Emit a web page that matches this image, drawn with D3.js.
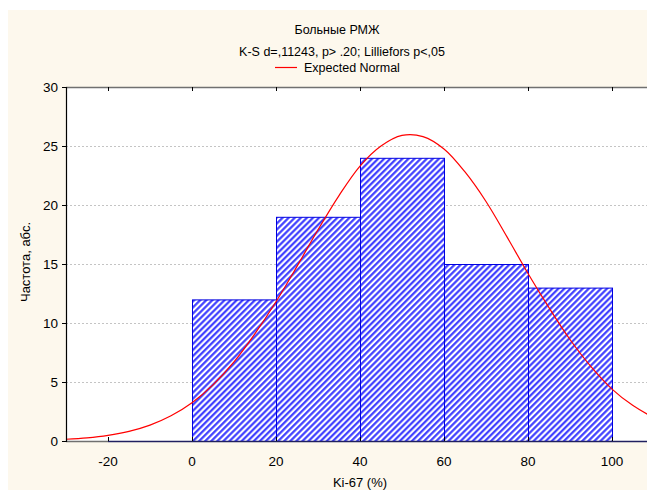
<!DOCTYPE html>
<html lang="ru">
    <head>
        <meta charset="utf-8">
        <title>Ki-67 histogram</title>
        <script type="text/javascript" src="https://cdn.jsdelivr.net/npm/d3@7"></script>
        <style>
            body { margin: 0; background: #ffffff; }
            text { font-family: "Liberation Sans", Arial, sans-serif; }
        </style>
    </head>
    <body>
        <script type="text/javascript">
            var w = 647;
            var h = 490;

            // histogram bins (left edges, width 20) and counts
            var binStarts = [-20, 0, 20, 40, 60, 80];
            var binCounts = [0, 12, 19, 24, 15, 13];
            var binWidth = 20;

            // expected normal curve, every 5 units
            var curveX = [-30, -25, -20, -15, -10, -5, 0, 5, 10, 15, 20, 25, 30, 35, 40, 45, 50, 55,
                          60, 65, 70, 75, 80, 85, 90, 95, 100, 105, 110];
            var curveY = [0.15, 0.27, 0.48, 0.82, 1.35, 2.14, 3.25, 4.76, 6.7, 9.1, 11.8, 14.8, 17.9, 20.8,
                          23.3, 25.0, 25.9, 25.8, 24.75, 22.8, 20.3, 17.3, 14.2, 11.3, 8.6, 6.3, 4.4, 3.0, 1.96];

            var xTicks = [-20, 0, 20, 40, 60, 80, 100];
            var yTicks = [0, 5, 10, 15, 20, 25, 30];

            var title = "Больные РМЖ";
            var subtitle = "K-S d=,11243, p> .20; Lilliefors p<,05";
            var legendLabel = "Expected Normal";
            var xLabel = "Ki-67 (%)";
            var yLabel = "Частота, абс.";

            var svg = d3.select("body").append("svg").attr("width", w).attr("height", h);

            // cream panel behind everything
            svg.append("rect").attr("x", 8).attr("y", 10).attr("width", w - 8).attr("height", h - 10)
               .attr("fill", "#fdf8ed");

            // note: "top" is taken by window.top, so plot edges get their own names
            var pLeft = 66, pTop = 87, pBottom = 441, pRight = 654;
            var xscale = d3.scaleLinear().domain([-30, 110]).range([pLeft, pRight]);
            var yscale = d3.scaleLinear().domain([0, 30]).range([pBottom, pTop]);

            // hatch pattern for bars
            var defs = svg.append("defs");
            var pat = defs.append("pattern").attr("id", "hatch")
               .attr("patternUnits", "userSpaceOnUse")
               .attr("width", 4.3).attr("height", 4.3)
               .attr("patternTransform", "rotate(45)");
            pat.append("rect").attr("width", 4.3).attr("height", 4.3).attr("fill", "#ffffff");
            pat.append("line").attr("x1", 1.2).attr("y1", 0).attr("x2", 1.2).attr("y2", 4.3)
               .attr("stroke", "#3535ff").attr("stroke-width", 2.1);

            // plot area
            svg.append("rect").attr("x", pLeft).attr("y", pTop).attr("width", w - pLeft).attr("height", pBottom - pTop)
               .attr("fill", "#ffffff");

            // dashed grid lines
            svg.selectAll("line.grid").data(yTicks.filter(function (d) { return d > 0 && d < 30; }))
               .enter().append("line").attr("class", "grid")
               .attr("x1", pLeft).attr("x2", w)
               .attr("y1", function (d) { return yscale(d) + 0.5; })
               .attr("y2", function (d) { return yscale(d) + 0.5; })
               .attr("stroke", "#c4c4c4").attr("stroke-dasharray", "2,2");

            // bars
            svg.selectAll("rect.bar").data(binCounts).enter().append("rect").attr("class", "bar")
               .attr("x", function (d, i) { return xscale(binStarts[i]) + 0.5; })
               .attr("y", function (d) { return yscale(d) + 0.5; })
               .attr("width", function (d, i) { return xscale(binStarts[i] + binWidth) - xscale(binStarts[i]); })
               .attr("height", function (d) { return yscale(0) - yscale(d); })
               .attr("fill", "url(#hatch)")
               .attr("stroke", "#0000e0").attr("stroke-width", 1);

            // expected normal curve (catmull-rom keeps the peak round)
            var line = d3.line()
               .x(function (d, i) { return xscale(curveX[i]); })
               .y(function (d) { return yscale(d); })
               .curve(d3.curveCatmullRom.alpha(0.5));
            svg.append("path").datum(curveY).attr("d", line)
               .attr("fill", "none").attr("stroke", "#ff0000").attr("stroke-width", 1.2);

            // frame: top and bottom axes gray, left axis black
            svg.append("line").attr("x1", pLeft).attr("x2", w).attr("y1", pTop + 0.5).attr("y2", pTop + 0.5)
               .attr("stroke", "#707070").attr("stroke-width", 1.5);
            svg.append("line").attr("x1", pLeft).attr("x2", xscale(-20)).attr("y1", pBottom + 0.5).attr("y2", pBottom + 0.5)
               .attr("stroke", "#707070").attr("stroke-width", 1.5);
            svg.append("line").attr("x1", xscale(-20)).attr("x2", w).attr("y1", pBottom + 0.5).attr("y2", pBottom + 0.5)
               .attr("stroke", "#202060").attr("stroke-width", 1.5);
            svg.append("line").attr("x1", pLeft + 0.5).attr("x2", pLeft + 0.5).attr("y1", pTop).attr("y2", pBottom + 1)
               .attr("stroke", "#000000").attr("stroke-width", 1.2);

            // x ticks (inward, top and bottom)
            svg.selectAll("line.xtb").data(xTicks).enter().append("line").attr("class", "xtb")
               .attr("x1", function (d) { return xscale(d) + 0.5; }).attr("x2", function (d) { return xscale(d) + 0.5; })
               .attr("y1", pBottom).attr("y2", pBottom - 4).attr("stroke", "#000000");
            svg.selectAll("line.xtt").data(xTicks).enter().append("line").attr("class", "xtt")
               .attr("x1", function (d) { return xscale(d) + 0.5; }).attr("x2", function (d) { return xscale(d) + 0.5; })
               .attr("y1", pTop).attr("y2", pTop + 4).attr("stroke", "#000000");

            svg.selectAll("text.xt").data(xTicks).enter().append("text").attr("class", "xt")
               .text(function (d) { return d; })
               .attr("x", function (d) { return xscale(d); })
               .attr("y", 466)
               .attr("font-size", "13.5px").attr("text-anchor", "middle").attr("fill", "#000");

            // y ticks (outward)
            svg.selectAll("line.yt").data(yTicks).enter().append("line").attr("class", "yt")
               .attr("x1", pLeft - 4).attr("x2", pLeft)
               .attr("y1", function (d) { return yscale(d) + 0.5; }).attr("y2", function (d) { return yscale(d) + 0.5; })
               .attr("stroke", "#000000");
            svg.selectAll("text.ytl").data(yTicks).enter().append("text").attr("class", "ytl")
               .text(function (d) { return d; })
               .attr("x", 58)
               .attr("y", function (d) { return yscale(d) + 5; })
               .attr("font-size", "13.5px").attr("text-anchor", "end").attr("fill", "#000");

            // titles and labels
            svg.append("text").text(title).attr("x", 337).attr("y", 34)
               .attr("font-size", "12.5px").attr("text-anchor", "middle");
            svg.append("text").text(subtitle).attr("x", 342).attr("y", 56)
               .attr("font-size", "12.5px").attr("text-anchor", "middle");
            svg.append("line").attr("x1", 275).attr("x2", 297).attr("y1", 67.5).attr("y2", 67.5)
               .attr("stroke", "#ff0000").attr("stroke-width", 1.2);
            svg.append("text").text(legendLabel).attr("x", 304).attr("y", 72)
               .attr("font-size", "12.5px");
            svg.append("text").text(xLabel).attr("x", 360).attr("y", 487)
               .attr("font-size", "13px").attr("text-anchor", "middle");
            svg.append("text").text(yLabel).attr("transform", "translate(30,262) rotate(-90)")
               .attr("font-size", "13px").attr("text-anchor", "middle");
        </script>
    </body>
</html>
